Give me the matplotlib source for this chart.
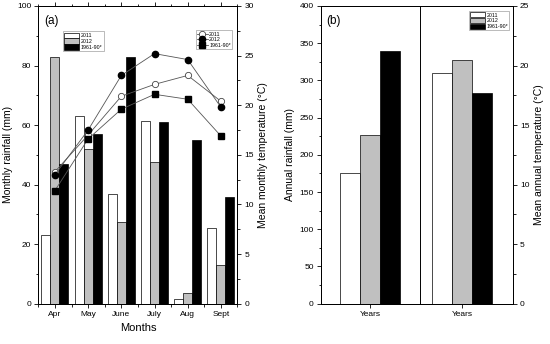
import numpy as np
import matplotlib
matplotlib.use('Agg')
import matplotlib.pyplot as plt
from matplotlib.ticker import MultipleLocator, FixedLocator

plt.rcParams['font.family'] = ['Liberation Sans', 'DejaVu Sans']

# Monthly data (panel a)
months = ['Apr', 'May', 'June', 'July', 'Aug', 'Sept']
rain_2011 = [23, 63, 37, 61.5, 1.5, 25.5]
rain_2012 = [83, 52, 27.5, 47.5, 3.5, 13]
rain_norm = [47, 57, 83, 61, 55, 36]
temp_2011 = [13.3, 17.0, 20.9, 22.1, 23.0, 20.4]
temp_2012 = [13.0, 17.5, 23.0, 25.2, 24.6, 19.8]
temp_norm = [11.4, 16.6, 19.6, 21.1, 20.6, 16.9]

# Annual data (panel b)
annual_labels = ['Years', 'Years']
annual_rain = [175, 227, 339]
annual_temp = [19.4, 20.5, 17.7]

series = ['2011', '2012', '1961-90*']
bar_colors = ['white', '#c0c0c0', 'black']

fig = plt.figure(figsize=(5.5, 3.44), dpi=100)
ax_a = fig.add_axes([0.0697, 0.1172, 0.3621, 0.8654])
ax_b = fig.add_axes([0.5831, 0.1172, 0.3496, 0.8654])


def style_ticks(ax):
    ax.tick_params(axis='both', which='major', length=3, width=0.6, labelsize=6, pad=2)
    ax.tick_params(axis='both', which='minor', length=1.8, width=0.6)
    for s in ax.spines.values():
        s.set_linewidth(0.7)


# ---- panel (a) ----
x = np.arange(1, len(months) + 1)
w = 0.27
for i, (vals, c) in enumerate(zip([rain_2011, rain_2012, rain_norm], bar_colors)):
    ax_a.bar(x + (i - 1) * w, vals, w, color=c, edgecolor='black', linewidth=0.5,
             label=series[i])
ax_a.set_xlim(0.5, 6.5)
ax_a.set_ylim(0, 100)
ax_a.set_xticks(x)
ax_a.set_xticklabels(months)
ax_a.xaxis.set_minor_locator(FixedLocator(np.arange(0.5, 7, 1)))
ax_a.yaxis.set_major_locator(MultipleLocator(20))
ax_a.yaxis.set_minor_locator(MultipleLocator(10))
style_ticks(ax_a)
ax_a.tick_params(axis='x', which='both', top=True, direction='out')
ax_a.set_xlabel('Months', fontsize=8, labelpad=4)
ax_a.set_ylabel('Monthly rainfall (mm)', fontsize=7.5, labelpad=3)
ax_a.text(0.03, 0.97, '(a)', transform=ax_a.transAxes, fontsize=8.5, va='top', ha='left')
leg1 = ax_a.legend(loc='upper left', bbox_to_anchor=(0.124, 0.915), fontsize=3.8,
                   handlelength=2.8, handleheight=1.2, borderpad=0.25, labelspacing=0.05,
                   handletextpad=0.3, frameon=True, fancybox=False, framealpha=1,
                   edgecolor='#888888', borderaxespad=0)
leg1.get_frame().set_linewidth(0.4)

tw_a = ax_a.twinx()
tw_a.plot(x, temp_2011, '-o', color='#555555', lw=0.6, ms=4.5, mfc='white',
          mec='#444444', mew=0.6, label='2011')
tw_a.plot(x, temp_2012, '-o', color='#555555', lw=0.6, ms=4.5, mfc='black',
          mec='black', label='2012')
tw_a.plot(x, temp_norm, '-s', color='#555555', lw=0.6, ms=4, mfc='black',
          mec='black', label='1961-90*')
tw_a.set_ylim(0, 30)
tw_a.yaxis.set_major_locator(MultipleLocator(5))
tw_a.yaxis.set_minor_locator(MultipleLocator(2.5))
style_ticks(tw_a)
tw_a.set_ylabel('Mean monthly temperature (°C)', fontsize=7.5, labelpad=3)
leg2 = tw_a.legend(loc='upper left', bbox_to_anchor=(0.79, 0.918), fontsize=3.8,
                   handlelength=2.0, borderpad=0.25, labelspacing=0.1,
                   handletextpad=0.3, frameon=True, fancybox=False, framealpha=1,
                   edgecolor='#888888', borderaxespad=0, markerscale=1.0)
leg2.get_frame().set_linewidth(0.4)

# ---- panel (b) ----
pos = np.array([1.0, 2.0])
wb = 0.218
for i, c in enumerate(bar_colors):
    ax_b.bar(pos[0] + (i - 1) * wb, annual_rain[i], wb, color=c, edgecolor='black',
             linewidth=0.5, label=series[i])
ax_b.set_xlim(0.46, 2.557)
ax_b.set_ylim(0, 400)
ax_b.set_xticks(pos)
ax_b.set_xticklabels(annual_labels)
ax_b.yaxis.set_major_locator(MultipleLocator(50))
ax_b.yaxis.set_minor_locator(MultipleLocator(25))
style_ticks(ax_b)
ax_b.set_ylabel('Annual rainfall (mm)', fontsize=7.5, labelpad=3)
ax_b.axvline(1.542, color='black', lw=0.7)
ax_b.text(0.03, 0.97, '(b)', transform=ax_b.transAxes, fontsize=8.5, va='top', ha='left')

tw_b = ax_b.twinx()
for i, c in enumerate(bar_colors):
    tw_b.bar(pos[1] + (i - 1) * wb, annual_temp[i], wb, color=c, edgecolor='black',
             linewidth=0.5, label=series[i])
tw_b.set_ylim(0, 25)
tw_b.yaxis.set_major_locator(MultipleLocator(5))
tw_b.yaxis.set_minor_locator(MultipleLocator(2.5))
style_ticks(tw_b)
tw_b.set_ylabel('Mean annual temperature (°C)', fontsize=7.5, labelpad=3)
leg3 = tw_b.legend(loc='upper right', bbox_to_anchor=(0.981, 0.984), fontsize=3.8,
                   handlelength=2.8, handleheight=1.2, borderpad=0.25, labelspacing=0.05,
                   handletextpad=0.3, frameon=True, fancybox=False, framealpha=1,
                   edgecolor='#888888', borderaxespad=0)
leg3.get_frame().set_linewidth(0.4)

fig.savefig('out.png', dpi=100)
